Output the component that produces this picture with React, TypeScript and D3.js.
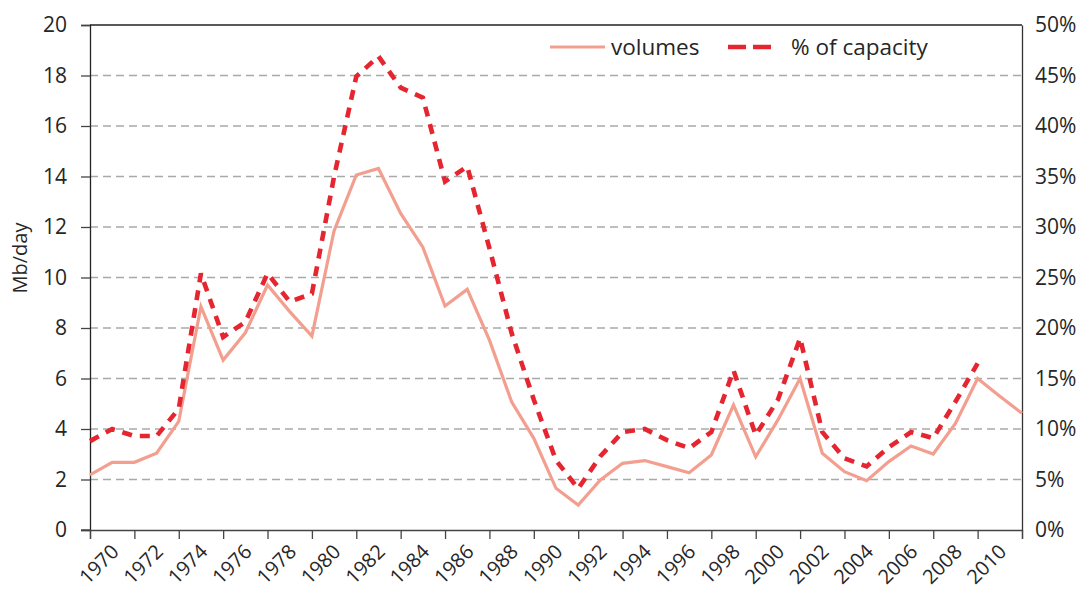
import React, { useEffect, useRef } from 'react';
import * as d3 from 'd3';

// years on the category axis, one point per year
const years = d3.range(1970, 2013);

// Mb/day
const volumes = [
  2.18, 2.68, 2.68, 3.04, 4.3, 8.85, 6.73, 7.81, 9.7, 8.65,
  7.68, 11.85, 14.06, 14.32, 12.54, 11.2, 8.87, 9.53, 7.52, 5.08,
  3.63, 1.65, 0.99, 1.98, 2.64, 2.75, 2.51, 2.27, 2.97, 4.95,
  2.9, 4.36, 6.0, 3.04, 2.31, 1.95, 2.71, 3.33, 3.01, 4.22,
  6.0, 5.3, 4.62,
];

// % of capacity (no data after 2010)
const capacity = [
  8.8, 10.0, 9.3, 9.3, 12.0, 25.4, 19.1, 20.6, 25.4, 22.6,
  23.4, 35.0, 44.9, 46.9, 43.8, 42.8, 34.5, 36.0, 27.9, 19.5,
  12.9, 6.9, 4.1, 7.3, 9.7, 10.0, 8.9, 8.1, 9.7, 15.8,
  9.4, 12.9, 19.0, 9.7, 7.1, 6.3, 8.2, 9.7, 9.1, 12.7,
  16.5, null, null,
];

const leftTicks = d3.range(0, 21, 2);
const rightTicks = d3.range(0, 51, 5);
const yearLabels = d3.range(1970, 2011, 2);
const tickYears = d3.range(1970, 2013, 2);

const seriesNames = ['volumes', '% of capacity'];

const W = 1086;
const H = 589;
const FONT = '"Open Sans", "Noto Sans", sans-serif';
const TEXT = '#262626';

export default function App() {
  const ref = useRef<SVGSVGElement>(null);

  useEffect(() => {
    const svg = d3.select(ref.current);
    svg.selectAll('*').remove();

    const x = d3.scaleLinear().domain([1970, 2012]).range([90, 1022]);
    const yL = d3.scaleLinear().domain([0, 20]).range([530, 25]);
    const yR = d3.scaleLinear().domain([0, 50]).range([530, 25]);

    // grid
    svg.append('g')
      .selectAll('line')
      .data(leftTicks.filter(d => d > 0 && d < 20))
      .enter()
      .append('line')
      .attr('x1', 90).attr('x2', 1022)
      .attr('y1', d => yL(d)).attr('y2', d => yL(d))
      .attr('stroke', '#a9a9a9')
      .attr('stroke-width', 1.5)
      .attr('stroke-dasharray', '8 5');

    // frame: top
    svg.append('line')
      .attr('x1', 90).attr('x2', 1022).attr('y1', 25).attr('y2', 25)
      .attr('stroke', '#222').attr('stroke-width', 1.3);

    // left axis
    const left = svg.append('g')
      .attr('transform', 'translate(90,0)')
      .call(d3.axisLeft(yL).tickValues(leftTicks).tickSize(9).tickPadding(14).tickFormat(d3.format('d')));
    left.select('.domain').attr('stroke', '#222').attr('stroke-width', 1.3);
    left.selectAll('.tick line').attr('stroke', '#444').attr('stroke-width', 1.3);
    left.selectAll('text').attr('font-family', FONT).attr('font-size', 21).attr('fill', TEXT);

    // right axis
    const right = svg.append('g')
      .attr('transform', 'translate(1022,0)')
      .call(d3.axisRight(yR).tickValues(rightTicks).tickSize(0).tickPadding(13).tickFormat(d => d + '%'));
    right.select('.domain').attr('stroke', '#333').attr('stroke-width', 1.3);
    right.selectAll('text').attr('font-family', FONT).attr('font-size', 21).attr('fill', TEXT);

    // bottom axis
    const bottom = svg.append('g')
      .attr('transform', 'translate(0,530)')
      .call(d3.axisBottom(x).tickValues(tickYears).tickSize(9).tickFormat(() => ''));
    bottom.select('.domain').attr('stroke', '#444').attr('stroke-width', 1.3);
    bottom.selectAll('.tick line').attr('stroke', '#444').attr('stroke-width', 1.3);

    svg.append('line')
      .attr('x1', 81).attr('x2', 90).attr('y1', 530).attr('y2', 530)
      .attr('stroke', '#444').attr('stroke-width', 1.3);

    // rotated year labels
    svg.append('g')
      .selectAll('text')
      .data(yearLabels)
      .enter()
      .append('text')
      .attr('transform', d => `translate(${x(d) + 30},553) rotate(-45)`)
      .attr('text-anchor', 'end')
      .attr('font-family', FONT)
      .attr('font-size', 20)
      .attr('fill', TEXT)
      .text(d => d);

    // y title
    svg.append('text')
      .attr('transform', 'translate(27,258) rotate(-90)')
      .attr('text-anchor', 'middle')
      .attr('font-family', FONT)
      .attr('font-size', 20)
      .attr('fill', TEXT)
      .text('Mb/day');

    // series
    const volLine = d3.line<number>()
      .x((d, i) => x(years[i]))
      .y(d => yL(d));
    svg.append('path')
      .attr('d', volLine(volumes))
      .attr('fill', 'none')
      .attr('stroke', '#f39f90')
      .attr('stroke-width', 3.2);

    const capLine = d3.line<number | null>()
      .defined(d => d != null)
      .x((d, i) => x(years[i]))
      .y(d => yR(d as number));
    svg.append('path')
      .attr('d', capLine(capacity))
      .attr('fill', 'none')
      .attr('stroke', '#e5252f')
      .attr('stroke-width', 4.6)
      .attr('stroke-dasharray', '10 8');

    // legend
    const lg = svg.append('g');
    lg.append('line')
      .attr('x1', 550).attr('x2', 605).attr('y1', 47).attr('y2', 47)
      .attr('stroke', '#f39f90').attr('stroke-width', 3.2);
    lg.append('text')
      .attr('x', 611).attr('y', 55)
      .attr('font-family', FONT).attr('font-size', 22.5).attr('fill', TEXT)
      .text(seriesNames[0]);
    lg.append('line')
      .attr('x1', 728).attr('x2', 771).attr('y1', 47).attr('y2', 47)
      .attr('stroke', '#e5252f').attr('stroke-width', 4.6)
      .attr('stroke-dasharray', '18 7');
    lg.append('text')
      .attr('x', 791).attr('y', 55)
      .attr('font-family', FONT).attr('font-size', 22.5).attr('fill', TEXT)
      .text(seriesNames[1]);
  }, []);

  return (
    <svg
      ref={ref}
      width={W}
      height={H}
      style={{ position: 'absolute', left: 0, top: 0, background: '#fff' }}
    />
  );
}
